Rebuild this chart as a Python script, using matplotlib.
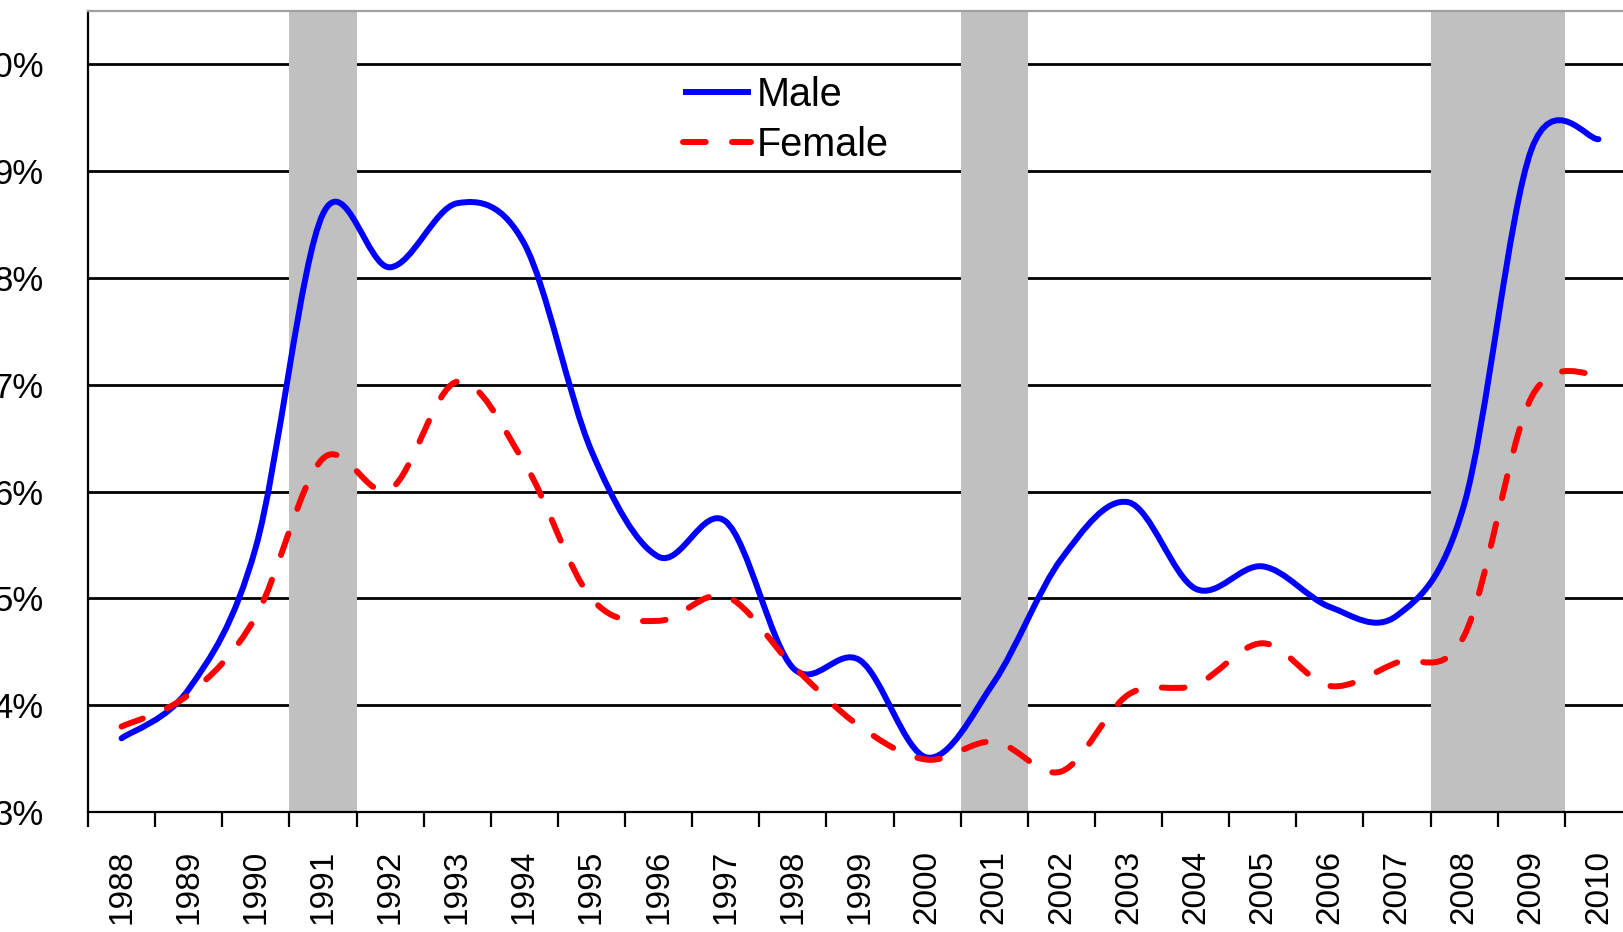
import numpy as np
import matplotlib
matplotlib.use("Agg")
import matplotlib.pyplot as plt
from matplotlib.path import Path
from matplotlib.patches import PathPatch
from matplotlib.lines import Line2D

years = [str(y) for y in range(1988, 2011)]
male = [3.69, 4.15, 5.48, 8.60, 8.10, 8.70, 8.32, 6.38, 5.39, 5.72, 4.35, 4.42,
        3.51, 4.22, 5.37, 5.90, 5.09, 5.30, 4.92, 4.84, 5.88, 9.20, 9.30]
female = [3.80, 4.10, 4.83, 6.31, 6.02, 7.03, 6.27, 5.00, 4.79, 5.02, 4.37, 3.80,
          3.49, 3.66, 3.38, 4.10, 4.19, 4.58, 4.18, 4.40, 4.65, 6.88, 7.10]
recessions = [("1991", "1991"), ("2001", "2001"), ("2008", "2009")]
yticks = [3, 4, 5, 6, 7, 8, 9, 10]

TICK_FONT = ["Liberation Sans", "DejaVu Sans"]
LEGEND_FONT = ["Liberation Sans", "DejaVu Sans"]


def smooth_path(xs, ys):
    # excel-style smoothed line: cubic bezier through every point
    pts = np.column_stack([xs, ys])
    padded = np.vstack([pts[0], pts, pts[-1]])
    verts = [pts[0]]
    codes = [Path.MOVETO]
    for i in range(len(pts) - 1):
        p0, p1, p2, p3 = padded[i], padded[i + 1], padded[i + 2], padded[i + 3]
        verts += [p1 + (p2 - p0) / 6, p2 - (p3 - p1) / 6, p2]
        codes += [Path.CURVE4] * 3
    return Path(verts, codes)


fig = plt.figure(figsize=(16.24, 9.32), dpi=100)
ax = fig.add_axes([88 / 1624, 1 - 812 / 932, 1544 / 1624, 801 / 932])

x = np.arange(len(years)) + 0.5

for start, end in recessions:
    ax.axvspan(years.index(start), years.index(end) + 1, color="#C0C0C0", lw=0, zorder=1)

male_style = dict(color="#0000FF", lw=4.3)
female_style = dict(color="#FF0000", lw=4.3, linestyle=(0, (3.8, 4.4)))

ax.add_patch(PathPatch(smooth_path(x, male), fill=False, capstyle="round",
                       joinstyle="round", zorder=3, **male_style))
ax.add_patch(PathPatch(smooth_path(x, female), fill=False, capstyle="round",
                       joinstyle="round", zorder=3, **female_style))

ax.set_xlim(0, len(years))
ax.set_ylim(3, 10.5)

ax.set_axisbelow(True)
ax.yaxis.grid(True, color="black", lw=2.0)
ax.xaxis.grid(False)

ax.set_yticks(yticks)
ax.set_yticklabels([f"{v}%" for v in yticks], family=TICK_FONT, fontsize=25)
ax.tick_params(axis="y", length=0, pad=32)

ax.set_xticks(x)
ax.set_xticklabels(years, rotation=90, family=TICK_FONT, fontsize=24, va="top")
ax.set_xticks(np.arange(len(years) + 1), minor=True)
ax.tick_params(axis="x", which="major", length=0, pad=27)
ax.tick_params(axis="x", which="minor", length=11, width=1.6, color="black", direction="out")

for side in ["left", "bottom"]:
    ax.spines[side].set_color("black")
    ax.spines[side].set_linewidth(1.6)
ax.spines["top"].set_color("#A0A0A0")
ax.spines["top"].set_linewidth(1.6)
ax.spines["right"].set_visible(False)

handles = [Line2D([], [], solid_capstyle="butt", **male_style),
           Line2D([], [], dash_capstyle="round", **female_style)]
fig.legend(handles, ["Male", "Female"], loc="upper left",
           bbox_to_anchor=(683 / 1624, 1 - 76 / 932), frameon=False,
           borderpad=0, borderaxespad=0, handlelength=1.72, handletextpad=0.15,
           labelspacing=0.31, prop={"family": LEGEND_FONT, "size": 28.5})

fig.savefig("out.png", dpi=100)
